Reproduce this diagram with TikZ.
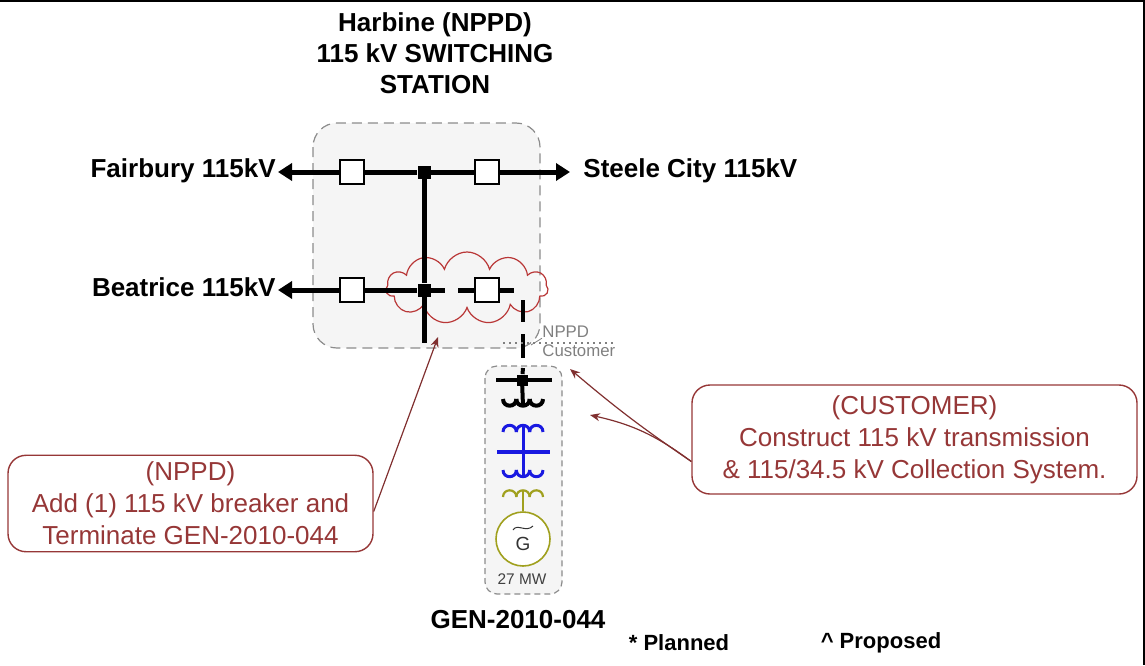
\documentclass[tikz,border=0pt]{standalone}
\usepackage{fontspec}
\setmainfont{Liberation Sans}
\usetikzlibrary{positioning}
\usetikzlibrary{arrows.meta}
\usetikzlibrary{shapes.symbols}
\definecolor{notered}{RGB}{150,55,55}
\definecolor{cloudred}{RGB}{185,55,55}
\definecolor{boxgray}{RGB}{245,245,245}
\definecolor{edgegray}{RGB}{140,140,140}
\definecolor{busblue}{RGB}{25,25,225}
\definecolor{genolive}{RGB}{160,160,30}
\tikzset{
        busline/.style={line width=2.5pt},
        tieline/.style={line width=2pt},
        breaker/.style={draw,line width=0.6pt,fill=white,minimum size=12pt,inner sep=0pt},
        junction/.style={fill,minimum size=6.5pt,inner sep=0pt},
        buslabel/.style={font=\fontsize{13}{15.5}\selectfont\bfseries,inner sep=0pt},
        busarrow/.style={-{Triangle[length=7pt,width=8.5pt]}},
        note/.style={draw=notered,line width=0.7pt,rounded corners=9pt,text=notered,align=center,
                     font=\fontsize{13}{16}\selectfont},
        pointer/.style={draw=notered!85!black,line width=0.6pt,-{Stealth[length=5pt,width=4pt]}},
        zone/.style={draw=edgegray,fill=boxgray,dash pattern=on 5pt off 3pt,line width=0.6pt},
        tiny/.style={font=\fontsize{8.4}{9}\selectfont,text=gray,inner sep=0pt},
        }

\begin{document}
\begin{tikzpicture}[x=0.5pt,y=-0.5pt]

			\useasboundingbox (0,0) rectangle (1145,665);

			% frame......................
			\draw [line width=1pt] (0,1) to (1145,1);
			\draw [line width=1pt] (1144,0) to (1144,665);

			% station and customer areas..................
			\draw [zone,rounded corners=12pt] (313,123) rectangle (540,348);
			\draw [zone,rounded corners=6pt,dash pattern=on 3pt off 2pt] (485,366) rectangle (562,594);

			% title...................
			\node [buslabel,align=center] (title) at (435,53) {Harbine (NPPD)\\115 kV SWITCHING\\STATION};

			% cloud round the new breaker.............
			\node [cloud,draw=cloudred,line width=0.6pt,cloud puffs=11,aspect=2.3,
			       minimum width=81pt,minimum height=36pt] (cloud) at (467,288) {};

			% top bus.....................
			\node [junction] (jtop) at (424,172) {};
			\node [breaker] (bfair) at (352,172) {};
			\node [breaker] (bsteele) at (487,172) {};
			\coordinate (fairend) at (278,172);
			\coordinate (steeleend) at (570,172);
			\draw [busline] (jtop) to (bfair);
			\draw [busline,busarrow] (bfair) to (fairend);
			\draw [busline] (jtop) to (bsteele);
			\draw [busline,busarrow] (bsteele) to (steeleend);
			\node [buslabel,anchor=east] (fairlbl) at (276,171) {Fairbury 115kV};
			\node [buslabel,anchor=west] (steelelbl) at (583,171) {Steele City 115kV};

			% bottom bus....................
			\node [junction] (jbot) at (424,290) {};
			\node [breaker] (bbeat) at (352,290) {};
			\node [breaker] (bnew) at (487,290) {};
			\coordinate (beatend) at (278,290);
			\coordinate (busfoot) at (424,343);
			\coordinate (stub) at (445,290);
			\coordinate (dashstart) at (458,290);
			\coordinate (newtail) at (514,290);
			\draw [busline] (jtop) to (jbot) to (busfoot);
			\draw [busline] (jbot) to (bbeat);
			\draw [busline,busarrow] (bbeat) to (beatend);
			\draw [busline] (jbot) to (stub);
			\draw [busline] (dashstart) to (bnew);
			\draw [busline] (bnew) to (newtail);
			\node [buslabel,anchor=east] (beatlbl) at (276,287) {Beatrice 115kV};

			% tie line to customer.................
			\coordinate (tieA) at (523,300);
			\coordinate (tieB) at (523,322);
			\coordinate (tieC) at (523,334);
			\coordinate (tieD) at (523,358);
			\draw [tieline] (tieA) to (tieB);
			\draw [tieline] (tieC) to (tieD);

			% ownership line..................
			\draw [gray,dotted,line width=1pt] (503,343) to (615,343);
			\node [tiny,anchor=west] (nppdlbl) at (542,332) {NPPD};
			\node [tiny,anchor=west] (custlbl) at (542,351) {Customer};
			\draw [gray,line width=0.4pt] (nppdlbl.south west) to (531,345);

			% customer bus.................
			\node [junction,minimum size=5.5pt] (jcust) at (522,380) {};
			\coordinate (cbusL) at (496,380);
			\coordinate (cbusR) at (552,380);
			\coordinate (tieE) at (523,368);
			\draw [tieline] (cbusL) to (cbusR);
			\draw [tieline] (tieE) to (jcust);

			% main transformer...................
			\draw [line width=2pt] (jcust) to (523,406);
			\foreach \cx in {503,516.33,529.67}
				\draw [line width=2pt] (\cx,399) .. controls (\cx,407.9) and (\cx+13.33,407.9) .. (\cx+13.33,399);
			\foreach \cx in {503,516.33,529.67}
				\draw [busblue,line width=1.5pt] (\cx,432) .. controls (\cx,423.1) and (\cx+13.33,423.1) .. (\cx+13.33,432);
			\draw [busblue,line width=1.5pt] (523,425.5) to (523,476.5);
			\draw [busblue,line width=2.2pt] (497,452) to (550,452);
			\foreach \cx in {503,516.33,529.67}
				\draw [busblue,line width=1.5pt] (\cx,470) .. controls (\cx,478.9) and (\cx+13.33,478.9) .. (\cx+13.33,470);

			% generator....................
			\node [circle,draw=genolive,line width=0.8pt,fill=white,minimum size=27pt,inner sep=0pt] (gen) at (523,539) {};
			\foreach \cx in {503,516.33,529.67}
				\draw [genolive,line width=1.1pt] (\cx,497) .. controls (\cx,488.1) and (\cx+13.33,488.1) .. (\cx+13.33,497);
			\draw [genolive,line width=1.1pt] (523,490.5) to (gen.north);
			\node [font=\fontsize{9.5}{10}\selectfont,text=black!80] (glbl) at (523,544) {G};
			\draw [black!80,line width=0.5pt] (513,530) .. controls (517,523) and (526,533) .. (533,526);
			\node [font=\fontsize{7.7}{8}\selectfont,text=black!75] (mw) at (522,579) {27 MW};

			% notes..............................
			\node [note,minimum width=182.5pt,minimum height=46.5pt] (nppdnote) at (190.5,503.5)
			      {(NPPD)\\Add (1) 115 kV breaker and\\Terminate GEN-2010-044};
			\node [note,minimum width=222.5pt,minimum height=54.5pt] (custnote) at (914.5,439.5)
			      {(CUSTOMER)\\Construct 115 kV transmission\\\& 115/34.5 kV Collection System.};

			% pointers..............................
			\coordinate (nppdtip) at (438,337);
			\coordinate (custtipA) at (570,369);
			\coordinate (custtipB) at (590,415);
			\draw [pointer] ([yshift=-4pt]nppdnote.east) to (nppdtip);
			\draw [pointer] ([yshift=-11pt]custnote.west) to [bend left=3] (custtipA);
			\draw [pointer] ([yshift=-11pt]custnote.west) to [bend right=12] (custtipB);

			% bottom labels..............................
			\node [buslabel] (genlbl) at (518,620) {GEN-2010-044};
			\node [buslabel,font=\fontsize{11}{12}\selectfont\bfseries] (planned) at (679,643) {* Planned};
			\node [buslabel,font=\fontsize{11}{12}\selectfont\bfseries] (proposed) at (881,643) {\textasciicircum\ Proposed};
		\end{tikzpicture}
\end{document}
